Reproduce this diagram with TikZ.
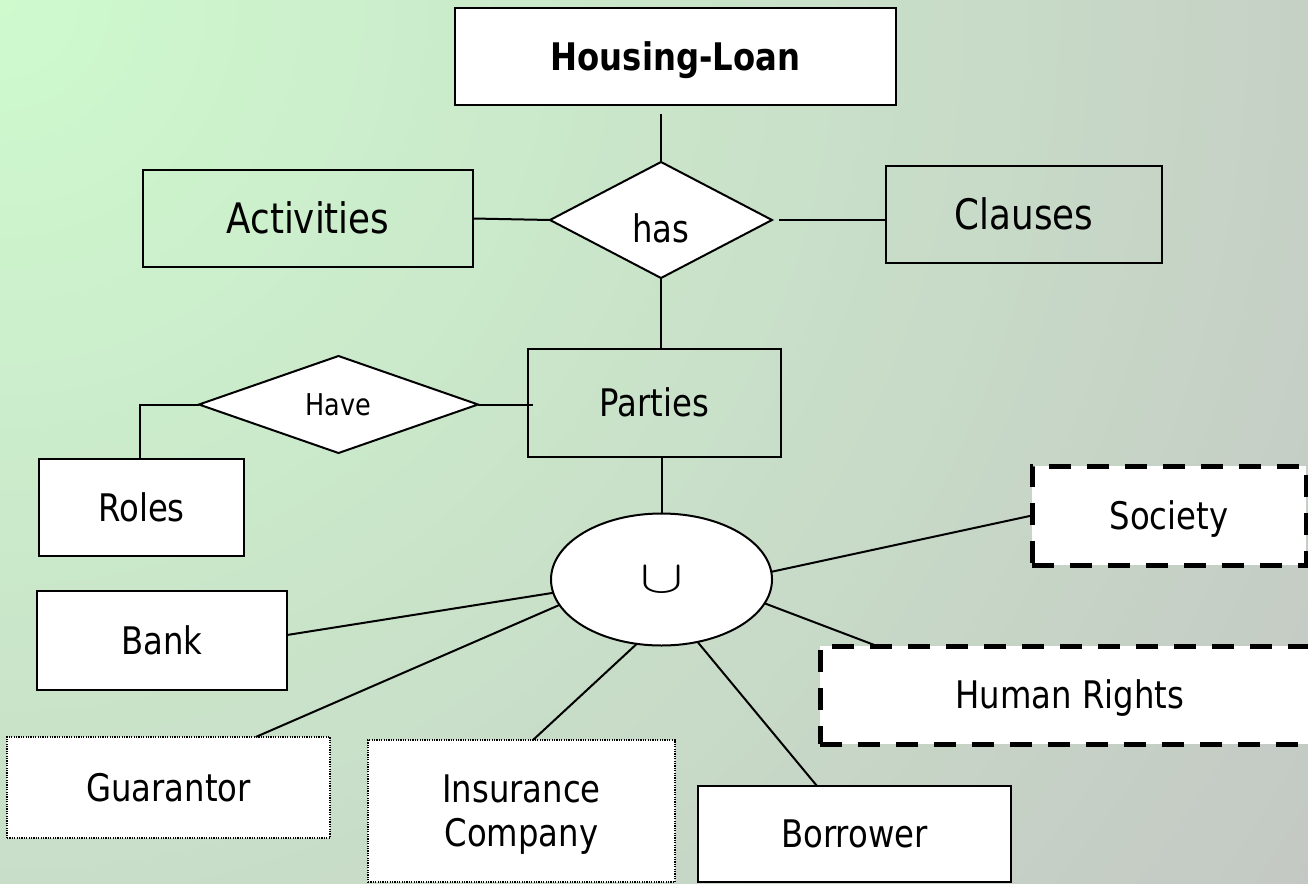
\RequirePackage{fix-cm}
\documentclass[tikz,border=0pt]{standalone}
\usepackage{fontspec}
\setmainfont{DejaVu Sans}[FakeStretch=0.85]
\usetikzlibrary{shapes.geometric,calc}
\definecolor{bginner}{RGB}{206,250,206}
\definecolor{bgouter}{RGB}{196,200,196}
\begin{document}
\begin{tikzpicture}[x=1pt,y=-1pt,
  every node/.style={inner sep=0pt, outer sep=0pt},
  ent/.style={draw=black, line width=2pt, rectangle},
  entw/.style={ent, fill=white},
  weak/.style={draw=black, line width=1.2pt, dash pattern=on 1.2pt off 1.2pt, fill=white, rectangle},
  opt/.style={draw=black, line width=5pt, dash pattern=on 22pt off 16pt, fill=white, rectangle},
  rel/.style={draw=black, line width=2pt, fill=white, diamond},
  conn/.style={draw=black, line width=2pt},
  big/.style={font=\fontsize{42}{50}\selectfont, text height=30.7pt, text depth=0pt},
  mid/.style={font=\fontsize{38}{44}\selectfont, text height=27.7pt, text depth=0pt},
  midml/.style={font=\fontsize{38}{44}\selectfont, text depth=0pt},
  small/.style={font=\fontsize{30}{38}\selectfont, text height=21.9pt, text depth=0pt}
]
\useasboundingbox (0,0) rectangle (1308,883);
\begin{scope}
\clip (0,0) rectangle (1308,883);
\shade[inner color=bginner, outer color=bgouter] (0,0) circle (1580);

% nodes
\node[entw, minimum width=441pt, minimum height=97pt, font=\fontsize{38}{45}\selectfont\bfseries, text height=27.7pt, text depth=0pt] (hl) at (675.5,56.5) {Housing-Loan};
\node[ent, big, minimum width=330pt, minimum height=97pt] (act) at (308,218.5) {Activities};
\node[ent, big, minimum width=276pt, minimum height=97pt] (cl) at (1024,214.5) {Clauses};
\node[rel, font=\fontsize{38}{45}\selectfont, minimum width=222pt, minimum height=116pt, text height=44pt, text depth=0pt] (has) at (661,220) {has};
\node[ent, mid, minimum width=253pt, minimum height=108pt] (par) at (654.5,403) {Parties};
\node[rel, small, minimum width=279pt, minimum height=97pt] (have) at (338.5,404.5) {Have};
\node[entw, mid, minimum width=205pt, minimum height=97pt] (roles) at (141.5,507.5) {Roles};
\node[draw=black, line width=2pt, fill=white, ellipse, minimum width=221pt, minimum height=132pt, font=\fontsize{46}{50}\selectfont, text height=25pt, text depth=0pt] (u) at (661.5,579.5) {\scalebox{1.4}[1]{$\cup$}};
\node[entw, mid, minimum width=250pt, minimum height=99pt] (bank) at (162,640.5) {Bank};
\node[weak, mid, minimum width=323pt, minimum height=101pt] (guar) at (168.5,787.5) {Guarantor};
\node[weak, midml, minimum width=307pt, minimum height=142pt, align=center] (ins) at (521.5,811) {Insurance\\Company};
\node[entw, mid, minimum width=313pt, minimum height=96pt] (bor) at (854.5,834) {Borrower};
\node[opt, mid, minimum width=500pt, minimum height=98pt] (hr) at (1070,695) {Human Rights};
\node[opt, mid, minimum width=274pt, minimum height=99pt] (soc) at (1169,515.5) {Society};
\coordinate (hlb) at (661,114);

% connectors
\draw[conn] (hlb) -- (has.north);
\draw[conn] (act.east) -- (has.west);
\draw[conn] ([xshift=7pt]has.east) -- (has.east -| cl.west);
\draw[conn] (has.south) -- (has.south |- par.north);
\draw[conn] (have.east) -- ([xshift=5pt]par.west |- have.east);
\draw[conn] (have.west) -| ([xshift=-2pt]roles.north);
\draw[conn] (u.north |- par.south) -- (u.north);
\draw[conn] ([yshift=5.5pt]bank.east) -- (u.187.35);
\draw[conn] ($(guar.north west)!0.77!(guar.north east)$) -- (u.194);
\draw[conn] ([xshift=11.5pt]ins.north) -- (u.249.6);
\draw[conn] ([xshift=-37.5pt]bor.north) -- (u.300.9);
\draw[conn] ($(hr.north west)+(57,0)$) -- (u.347.2);
\draw[conn] (soc.west) -- (u.4.7);
\end{scope}
\end{tikzpicture}
\end{document}
